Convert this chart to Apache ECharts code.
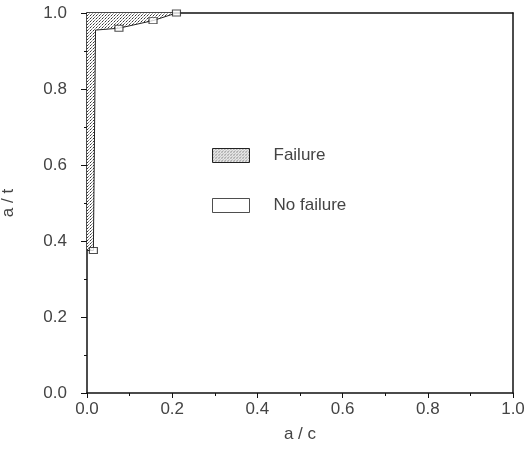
<!DOCTYPE html>
<html>
<head>
<meta charset="utf-8">
<script src="https://cdn.jsdelivr.net/npm/echarts@6/dist/echarts.min.js"></script>
<style>
html, body { margin: 0; padding: 0; background: #fff; }
#chart { width: 529px; height: 454px; }
</style>
</head>
<body>
<div id="chart"></div>
<script>
// boundary between failure / no failure
let boundary_ac = [0.0, 0.015, 0.02, 0.075, 0.155, 0.21]
let boundary_at = [0.375, 0.375, 0.955, 0.96, 0.98, 1.0]
// the measured points (small square markers)
let marks_ac = [0.015, 0.075, 0.155, 0.21]
let marks_at = [0.375, 0.96, 0.98, 1.0]
let x_ticks = ['0.0', '0.2', '0.4', '0.6', '0.8', '1.0']
let names = ['Failure', 'No failure']

function dots() {
    let c = document.createElement('canvas')
    c.width = 3
    c.height = 3
    let g = c.getContext('2d')
    g.fillStyle = '#fff'
    g.fillRect(0, 0, 3, 3)
    g.fillStyle = '#333'
    g.fillRect(0, 0, 1, 1)
    g.fillStyle = '#777'
    g.fillRect(1, 2, 1, 1)
    g.fillStyle = '#aaa'
    g.fillRect(2, 1, 1, 1)
    return c
}
const pattern = { image: dots(), repeat: 'repeat' }

let line_data = []
for (let i = 0; i < boundary_ac.length; i++) {
    line_data.push([boundary_ac[i], boundary_at[i]])
}
let mark_data = []
for (let i = 0; i < marks_ac.length; i++) {
    mark_data.push([marks_ac[i], marks_at[i]])
}

const font = 'Liberation Sans'

let option = {
    animation: false,
    grid: { left: 87, right: 16, top: 13, bottom: 61, outerBoundsMode: 'none', containLabel: false },
    legend: {
        orient: 'vertical',
        left: 207,
        top: 142,
        itemWidth: 37,
        itemHeight: 14,
        itemGap: 33,
        icon: 'rect',
        textStyle: { fontFamily: font, fontSize: 17, color: '#444', padding: [0, 0, 0, 19] },
        data: [
            { name: names[0], itemStyle: { color: pattern, borderColor: '#222', borderWidth: 1 } },
            { name: names[1], itemStyle: { color: '#fff', borderColor: '#222', borderWidth: 1 } }
        ]
    },
    xAxis: [
        {
            type: 'value', min: 0, max: 1, interval: 0.2,
            name: 'a / c', nameLocation: 'middle', nameGap: 33,
            nameTextStyle: { fontFamily: font, fontSize: 17, color: '#444' },
            axisLine: { onZero: false, lineStyle: { color: '#111', width: 1.5 } },
            axisTick: { length: 5, lineStyle: { color: '#111' } },
            minorTick: { show: true, splitNumber: 2, length: 3, lineStyle: { color: '#111' } },
            axisLabel: {
                fontFamily: font, fontSize: 17, color: '#444', margin: 8,
                formatter: function (v) { return x_ticks[Math.round(v * 5)] }
            },
            splitLine: { show: false }
        },
        {
            type: 'value', min: 0, max: 1, position: 'top',
            axisLine: { onZero: false, lineStyle: { color: '#111', width: 1.5 } },
            axisTick: { show: false }, axisLabel: { show: false }, splitLine: { show: false }
        }
    ],
    yAxis: [
        {
            type: 'value', min: 0, max: 1, interval: 0.2,
            name: 'a / t', nameLocation: 'middle', nameGap: 70, nameRotate: 90,
            nameTextStyle: { fontFamily: font, fontSize: 17, color: '#444' },
            axisLine: { onZero: false, lineStyle: { color: '#111', width: 1.5 } },
            axisTick: { length: 6, lineStyle: { color: '#111' } },
            minorTick: { show: true, splitNumber: 2, length: 3, lineStyle: { color: '#111' } },
            axisLabel: {
                fontFamily: font, fontSize: 17, color: '#444', margin: 20,
                formatter: function (v) { return v.toFixed(1) }
            },
            splitLine: { show: false }
        },
        {
            type: 'value', min: 0, max: 1, position: 'right',
            axisLine: { onZero: false, lineStyle: { color: '#111', width: 1.5 } },
            axisTick: { show: false }, axisLabel: { show: false }, splitLine: { show: false }
        }
    ],
    series: [
        {
            name: names[0],
            type: 'line',
            data: line_data,
            showSymbol: false,
            lineStyle: { color: '#222', width: 1 },
            itemStyle: { color: pattern, borderColor: '#222' },
            areaStyle: { color: pattern, origin: 'end', opacity: 1 },
            z: 3
        },
        {
            name: names[1],
            type: 'scatter',
            data: mark_data,
            symbol: 'rect',
            symbolSize: [8, 6],
            itemStyle: { color: '#fff', borderColor: '#222', borderWidth: 1 },
            z: 4
        }
    ]
}

const dom = document.getElementById('chart')
const myChart = echarts.init(dom)
myChart.setOption(option, true)
</script>
</body>
</html>
